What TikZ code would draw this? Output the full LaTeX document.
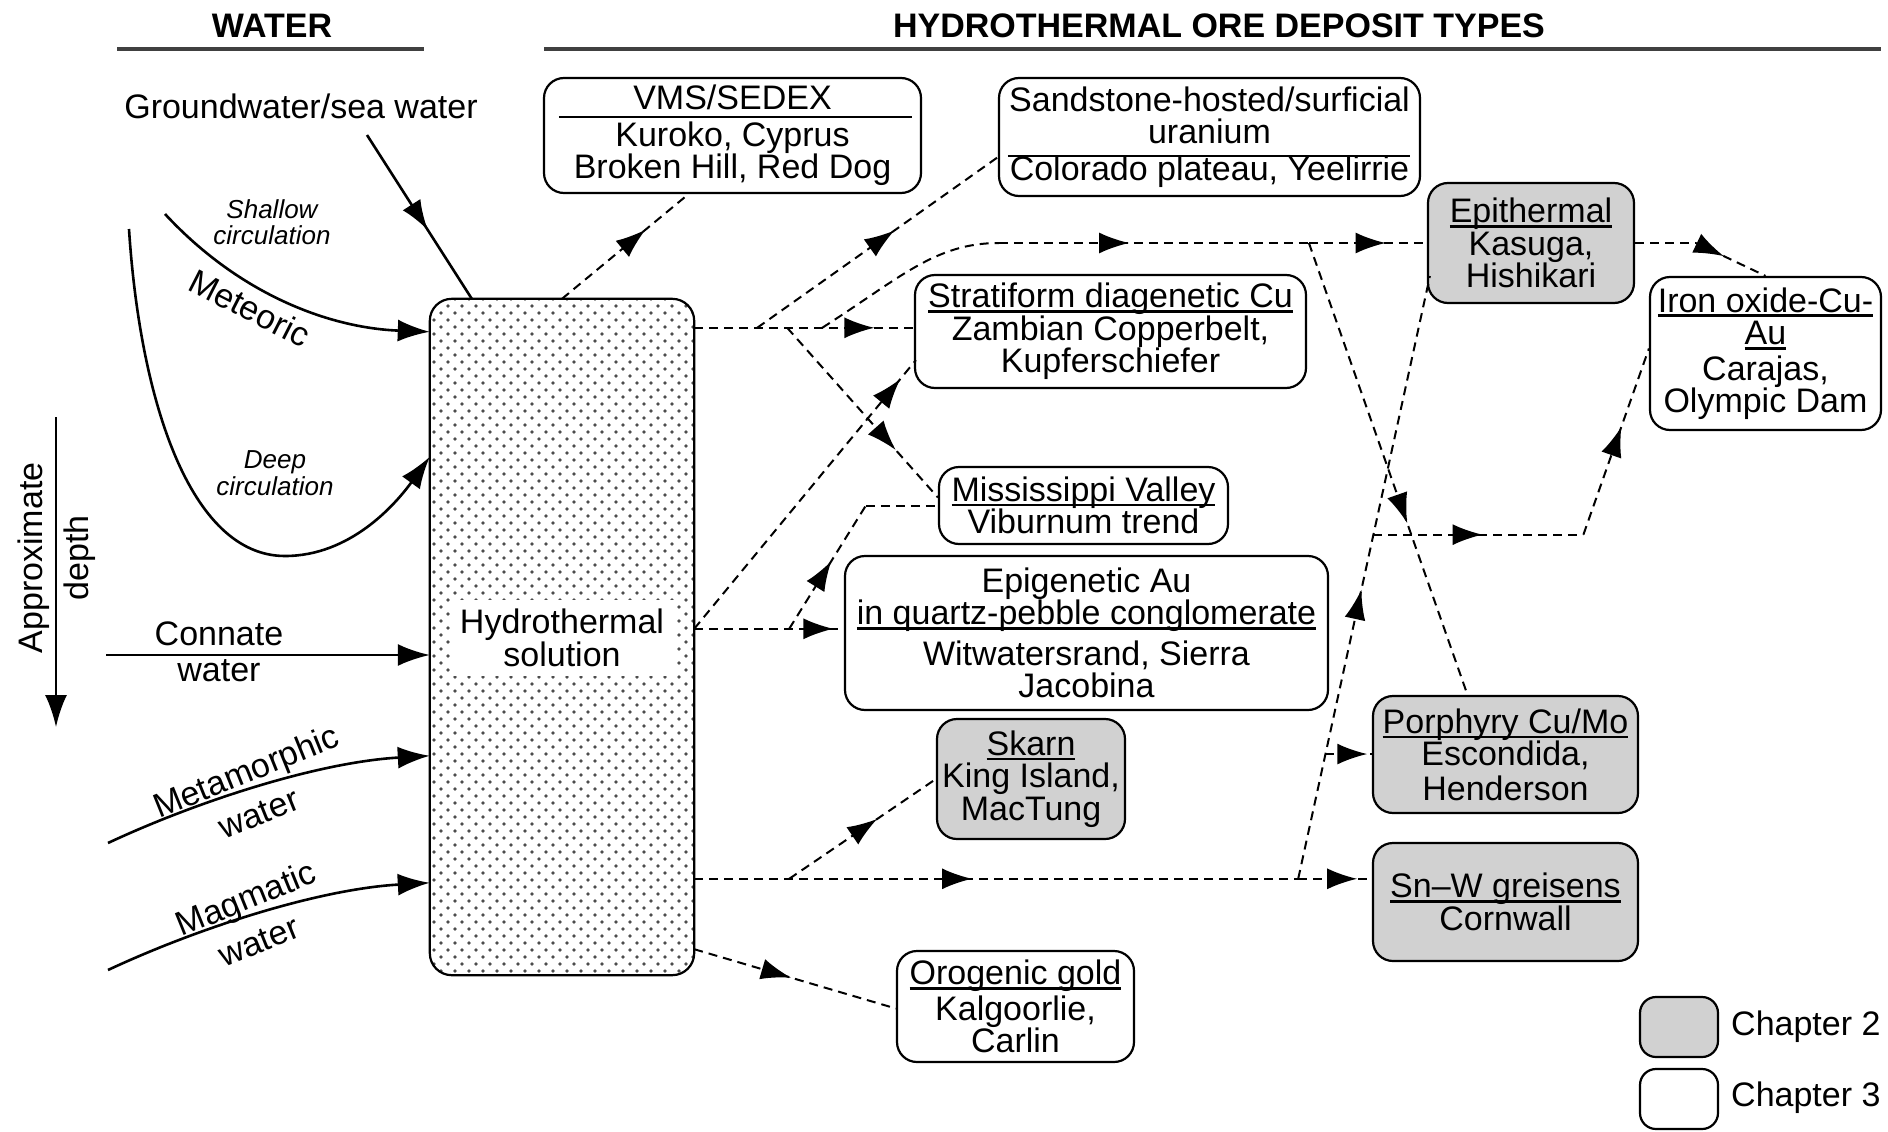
\documentclass[tikz,border=0pt]{standalone}
\usepackage{fontspec}
\setmainfont{Liberation Sans}
\usetikzlibrary{arrows.meta,decorations.markings,patterns.meta,calc}
\definecolor{boxgray}{gray}{0.82}
\newcommand{\mainfs}{\fontsize{34}{32.5}\selectfont}
\newcommand{\smallfs}{\fontsize{26}{26.5}\selectfont}
\newcommand{\ulx}[1]{\leavevmode\setbox0=\hbox{#1}\rlap{\rule[-5pt]{\wd0}{2.6pt}}\box0}
\begin{document}
\begin{tikzpicture}[x=1pt,y=-1pt,
  box/.style={draw=black, line width=2.2pt, rounded corners=20pt, align=center, inner sep=0pt, font=\mainfs},
  wbox/.style={box, fill=white},
  gbox/.style={box, fill=boxgray},
  lbl/.style={font=\mainfs, align=center, inner sep=0pt},
  slbl/.style={font=\smallfs\itshape, align=center, inner sep=0pt},
  dline/.style={line width=2pt, dash pattern=on 9pt off 6pt},
  sline/.style={line width=2.6pt},
  solidtip/.style={-{Latex[length=32pt,width=22pt]}},
  marr/.style={postaction={decorate,decoration={markings,mark=at position #1 with {\arrow{Latex[length=30pt,width=21pt]}}}}},
  hrule/.style={line width=3.2pt, black!75}
]
\useasboundingbox (0,0) rectangle (1888,1132);

% headers
\node[lbl, font=\mainfs\bfseries] (tw) at (272,26) {WATER};
\node[lbl, font=\mainfs\bfseries] (th) at (1219,26) {HYDROTHERMAL ORE DEPOSIT TYPES};
\draw[hrule] (117,49) -- (424,49);
\draw[hrule] (544,49) -- (1881,49);

% hydrothermal solution box
\node[minimum width=264pt, minimum height=676pt, inner sep=0pt] (H) at (562,637) {};
\path[rounded corners=22pt, pattern={Dots[distance=14pt,radius=1.9pt]}, pattern color=black!70] (H.south west) rectangle (H.north east);
\path[rounded corners=22pt, pattern={Dots[distance=14pt,radius=1.9pt,xshift=7pt,yshift=7pt]}, pattern color=black!70] (H.south west) rectangle (H.north east);
\draw[rounded corners=22pt, line width=2.2pt] (H.south west) rectangle (H.north east);
\node[lbl, fill=white, inner xsep=10pt, inner ysep=9pt] (ht) at (562,638) {Hydrothermal\\solution};

% left labels
\node[lbl] (gw) at (301,106) {Groundwater/sea water};
\node[slbl] (shal) at (272,222) {Shallow\\circulation};
\node[lbl, rotate=-27] (met) at (250,308) {Meteoric};
\node[slbl] (deep) at (275,473) {Deep\\circulation};
\node[lbl] (con1) at (219,634) {Connate};
\node[lbl] (con2) at (219,671) {water};
\node[lbl, rotate=22] (mm1) at (247,774) {Metamorphic};
\node[lbl, rotate=22] (mm2) at (259,814) {water};
\node[lbl, rotate=22] (mg1) at (247,901) {Magmatic};
\node[lbl, rotate=22] (mg2) at (259,942) {water};
\node[lbl, rotate=90] (ap1) at (34,558) {Approximate};
\node[lbl, rotate=90] (ap2) at (80,558) {depth};

% left solid connectors
\coordinate (d1) at (56,417);
\coordinate (d2) at (56,727);
\draw[sline, solidtip] (d1) -- (d2);
\coordinate (gws) at (367,135);
\draw[sline, marr=0.58] (gws) -- ($(H.north west)+(42,0)$);
\coordinate (ms) at (165,214);
\draw[sline, solidtip] (ms) .. controls (240,295) and (330,328) .. ($(H.north west)+(0,33)$);
\coordinate (ds) at (129,229);
\draw[sline, solidtip] (ds) .. controls (140,400) and (190,556) .. (285,556) .. controls (350,556) and (395,505) .. ($(H.north west)+(0,158)$);
\coordinate (cs) at (106,655);
\draw[sline, solidtip] (cs) -- (cs -| H.west);
\coordinate (mts) at (108,843);
\draw[sline, solidtip] (mts) .. controls (200,800) and (320,762) .. ($(H.north west)+(0,457)$);
\coordinate (mgs) at (108,970);
\draw[sline, solidtip] (mgs) .. controls (200,927) and (320,889) .. ($(H.north west)+(0,584)$);

% deposit boxes
\node[wbox, minimum width=377pt, minimum height=115pt] (vms) at (732.5,135.5) {VMS/SEDEX\\[4pt]Kuroko, Cyprus\\Broken Hill, Red Dog};
\node[wbox, minimum width=421pt, minimum height=118pt] (sand) at (1209.5,137) {Sandstone-hosted/surficial\\uranium\\[4pt]Colorado plateau, Yeelirrie};
\node[gbox, minimum width=206pt, minimum height=120pt] (epi) at (1531,243) {\ulx{Epithermal}\\Kasuga,\\Hishikari};
\node[wbox, minimum width=391pt, minimum height=113pt] (strat) at (1110.5,331.5) {\ulx{Stratiform diagenetic Cu}\\Zambian Copperbelt,\\Kupferschiefer};
\node[wbox, minimum width=231pt, minimum height=153pt] (iron) at (1765.5,353.5) {\ulx{Iron oxide-Cu-}\\\ulx{Au}\\[3pt]Carajas,\\Olympic Dam};
\node[wbox, minimum width=289pt, minimum height=77pt] (mv) at (1083.5,505.5) {\ulx{Mississippi Valley}\\Viburnum trend};
\node[wbox, minimum width=483pt, minimum height=154pt] (epig) at (1086.5,633) {Epigenetic Au\\\ulx{in quartz-pebble conglomerate}\\[8pt]Witwatersrand, Sierra\\Jacobina};
\node[gbox, minimum width=188pt, minimum height=120pt] (skarn) at (1031,779) {\ulx{Skarn}\\King Island,\\MacTung};
\node[gbox, minimum width=265pt, minimum height=117pt] (por) at (1505.5,754.5) {\ulx{Porphyry Cu/Mo}\\Escondida,\\[2pt]Henderson};
\node[gbox, minimum width=265pt, minimum height=118pt] (snw) at (1505.5,902) {\ulx{Sn–W greisens}\\Cornwall};
\node[wbox, minimum width=237pt, minimum height=111pt] (oro) at (1015.5,1006.5) {\ulx{Orogenic gold}\\[3pt]Kalgoorlie,\\Carlin};

\draw[line width=2.6pt] ($(vms.west)+(16,-18.5)$) -- ($(vms.east)+(-10,-18.5)$);
\draw[line width=2.6pt] ($(sand.west)+(10,19)$) -- ($(sand.east)+(-11,19)$);

% dashed connectors
\draw[dline, marr=0.66] (H.north) -- ($(vms.south)+(-44,0)$);

\coordinate (h1) at ($(H.north east)+(0,29)$);
\coordinate (j1) at ($(h1)+(63,0)$);
\coordinate (j2) at ($(h1)+(93,0)$);
\coordinate (j3) at ($(h1)+(128,0)$);
\draw[dline, marr=0.82] (h1) -- (h1 -| strat.west);
\draw[dline, marr=0.57] (j1) -- ($(sand.south west)+(0,-40)$);
\draw[dline, marr=0.72] (j2) -- ($(mv.west)+(0,-8)$);
\coordinate (c1) at ($(epi.west)+(-428,0)$);
\coordinate (j4) at ($(epi.west)+(-118,0)$);
\draw[dline] (j3) .. controls (900,278) and (935,243) .. (c1);
\draw[dline, marr=0.42] (c1) -- (j4);
\draw[dline, marr=0.65] (j4) -- (epi.west);
\draw[dline, marr=0.62] (j4) -- ($(por.north)+(-38,0)$);

\coordinate (h2) at ($(H.north east)+(0,330)$);
\draw[dline, marr=0.93] (h2) -- (h2 -| epig.west);
\draw[dline, marr=0.93] (h2) -- ($(strat.south west)+(2,-29)$);
\coordinate (j5) at ($(h2)+(95,0)$);
\coordinate (m1) at ($(mv.west)+(-72,0)$);
\draw[dline, marr=0.55] (j5) -- (m1);
\draw[dline] (m1) -- (mv.west);

\coordinate (h3) at ($(H.north east)+(0,580)$);
\coordinate (j6) at ($(h3)+(95,0)$);
\coordinate (j7) at ($(h3)+(604,0)$);
\draw[dline, marr=0.46] (h3) -- (j7);
\draw[dline, marr=0.8] (j7) -- (j7 -| snw.west);
\draw[dline, marr=0.6] (j6) -- (skarn.west);
\coordinate (e1) at ($(epi.south west)+(3,-28)$);
\draw[dline, marr=0.48] (j7) -- (e1);
\coordinate (j8) at ($(j7)!0.207!(e1)$);
\draw[dline, marr=0.9] (j8) -- (j8 -| por.west);
\coordinate (j9) at ($(j7)!0.571!(e1)$);
\coordinate (k1) at ($(j9)+(210,0)$);
\draw[dline, marr=0.52] (j9) -- (k1);
\draw[dline, marr=0.58] (k1) -- ($(iron.west)+(0,-5)$);

\draw[dline, marr=0.48] ($(H.south east)+(0,-26)$) -- ($(oro.west)+(0,2)$);

\coordinate (k2) at ($(epi.east)+(61,0)$);
\draw[dline] (epi.east) -- (k2);
\draw[dline, marr=0.4] (k2) -- (iron.north);

% legend
\node[gbox, minimum width=78pt, minimum height=60pt, rounded corners=16pt] (lg2) at (1679,1027) {};
\node[wbox, minimum width=78pt, minimum height=60pt, rounded corners=16pt] (lg3) at (1679,1099) {};
\node[lbl, anchor=west] (lt2) at (1731,1027) {Chapter 2};
\node[lbl, anchor=west] (lt3) at (1731,1098) {Chapter 3};
\end{tikzpicture}
\end{document}
